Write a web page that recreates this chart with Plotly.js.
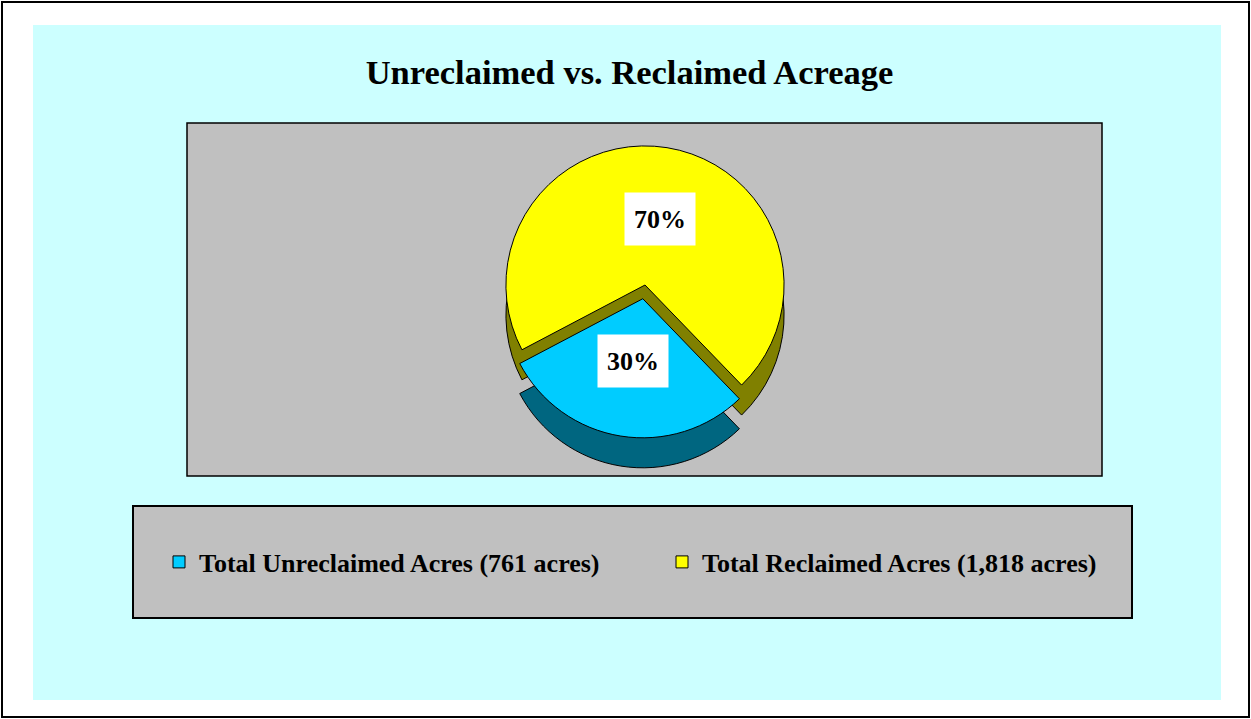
<!DOCTYPE html>
<html>
<head>
<meta charset="utf-8">
<script src="https://cdn.plot.ly/plotly-3.0.1.min.js"></script>
<style>
  html, body { margin: 0; padding: 0; background: #ffffff; }
  #chart { width: 1251px; height: 719px; }
</style>
</head>
<body>
<div id="chart"></div>
<script>
// ---- data ----
const chartTitle = 'Unreclaimed vs. Reclaimed Acreage';
const categories = ['Total Unreclaimed Acres (761 acres)', 'Total Reclaimed Acres (1,818 acres)'];
const acres = [761, 1818];
const topColors = ['#00CCFF', '#FFFF00'];
const sideColors = ['#006680', '#808000'];
const pulls = [0.1, 0];

// ---- layout helpers (pixel -> paper) ----
const W = 1251, H = 719;
const px = x => x / W;
const py = y => 1 - y / H;
const FONT = 'Liberation Serif, Times New Roman, serif';

const rotation = 136;
const depth = 30;
const pieBox = { x0: 492, x1: 798, y0: 132, y1: 438 };

const total = acres.reduce((a, b) => a + b, 0);
const maxPull = Math.max(...pulls);
const r = Math.min(pieBox.x1 - pieBox.x0, pieBox.y1 - pieBox.y0) / 2 / (1 + maxPull);
const cx = (pieBox.x0 + pieBox.x1) / 2, cy = (pieBox.y0 + pieBox.y1) / 2;

// label positions derived from slice geometry
const labelRadius = [0.45, 0.68];
let startAng = rotation;
const annotations = acres.map((v, i) => {
  const span = v / total * 360;
  const mid = (startAng + span / 2) * Math.PI / 180;
  startAng += span;
  const d = (pulls[i] + labelRadius[i]) * r;
  return {
    x: px(cx + d * Math.sin(mid)), y: py(cy - d * Math.cos(mid)),
    xref: 'paper', yref: 'paper', showarrow: false,
    text: '<b>' + Math.round(v / total * 100) + '%</b>',
    font: { family: FONT, size: 26, color: '#000000' },
    bgcolor: '#FFFFFF', width: 68, height: 50
  };
});

const sidePie = {
  type: 'pie', labels: categories, values: acres, sort: false,
  direction: 'clockwise', rotation: rotation, pull: pulls,
  marker: { colors: sideColors, line: { color: '#000000', width: 1 } },
  textinfo: 'none', hoverinfo: 'skip', showlegend: false,
  domain: { x: [px(pieBox.x0), px(pieBox.x1)], y: [py(pieBox.y1 + depth), py(pieBox.y0 + depth)] }
};
const topPie = {
  type: 'pie', labels: categories, values: acres, sort: false,
  direction: 'clockwise', rotation: rotation, pull: pulls,
  marker: { colors: topColors, line: { color: '#000000', width: 1 } },
  textinfo: 'none', showlegend: true,
  domain: { x: [px(pieBox.x0), px(pieBox.x1)], y: [py(pieBox.y1), py(pieBox.y0)] }
};

const rect = (x0, y0, x1, y1, fill, lineColor, lw) => ({
  type: 'rect', xref: 'paper', yref: 'paper', layer: 'below',
  x0: px(x0), x1: px(x1), y0: py(y1), y1: py(y0),
  fillcolor: fill, line: { color: lineColor, width: lw }
});

const layout = {
  width: W, height: H,
  margin: { l: 0, r: 0, t: 0, b: 0 },
  paper_bgcolor: '#FFFFFF',
  plot_bgcolor: 'rgba(0,0,0,0)',
  title: {
    text: '<b>' + chartTitle + '</b>',
    font: { family: FONT, size: 34.5, color: '#000000' },
    x: px(629.5), xanchor: 'center', xref: 'paper',
    y: py(72), yanchor: 'middle', yref: 'paper'
  },
  shapes: [
    rect(2, 2, 1249, 717, 'rgba(0,0,0,0)', '#000000', 2),
    rect(33, 25, 1221, 700, '#CCFFFF', 'rgba(0,0,0,0)', 0),
    rect(187, 123, 1102, 476, '#C0C0C0', '#000000', 1.5),
    rect(133, 506, 1132, 618, '#C0C0C0', '#000000', 2)
  ],
  annotations: annotations,
  showlegend: true,
  legend: {
    orientation: 'h', x: px(159), xanchor: 'left', y: py(562), yanchor: 'middle',
    bgcolor: 'rgba(0,0,0,0)', borderwidth: 0,
    entrywidth: 458, entrywidthmode: 'pixels',
    font: { family: FONT, size: 26, color: '#000000', weight: 'bold' },
    traceorder: 'normal'
  }
};

Plotly.newPlot('chart', [sidePie, topPie], layout, { displayModeBar: false, staticPlot: true });
</script>
</body>
</html>
